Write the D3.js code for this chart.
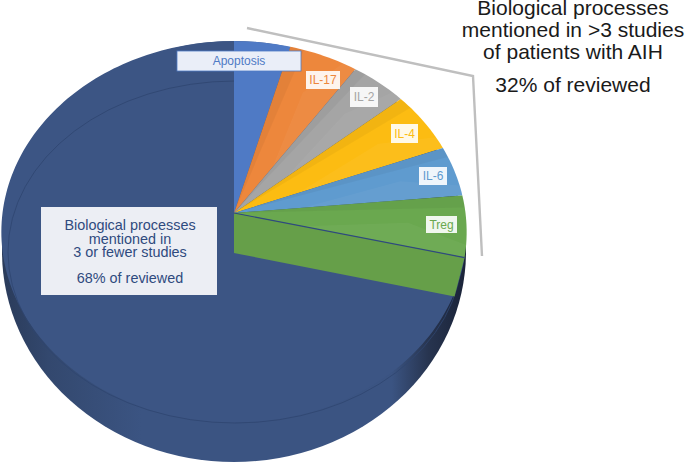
<!DOCTYPE html>
<html>
<head>
<meta charset="utf-8">
<script src="https://cdnjs.cloudflare.com/ajax/libs/d3/7.8.5/d3.min.js"></script>
<style>
  html, body { margin: 0; padding: 0; background: #fff; }
  svg { display: block; font-family: "Liberation Sans", Arial, sans-serif; }
</style>
</head>
<body>
<div id="chart"></div>
<script>
// slice shares (%), clockwise from 12 o'clock
var slices = ['Apoptosis', 'IL-17', 'IL-2', 'IL-4', 'IL-6', 'Treg', 'Other']
var shares = [4.3, 5.3, 4.3, 5.3, 4.3, 5.2, 71.3]
var colours = ['#4f7ac5', '#ed873c', '#a5a5a5', '#fcbc12', '#5f9bcf', '#6aa84f', '#3c5584']
var title_lines = ['Biological processes', 'mentioned in >3 studies', 'of patients with AIH']
var title_share = '32% of reviewed'
var other_lines = ['Biological processes', 'mentioned in', '3 or fewer studies']
var other_share = '68% of reviewed'

var width = 685
var height = 463

// tilted disc: apex is the pie centre, p is the perspective strength
var apex = [234, 213]
var R = 231.5
var S = 189
var p = 0.0995
function project(angle, r){
  var u = Math.sin(angle) * r
  var v = Math.cos(angle) * r
  var w = 1 + p * v
  return [apex[0] + R * u / w, apex[1] - S * v / w]
}

var svg = d3.select('#chart').append('svg')
  .attr('width', width)
  .attr('height', height)

var defs = svg.append('defs')
var side = defs.append('linearGradient').attr('id', 'side')
side.append('stop').attr('offset', 0).attr('stop-color', '#2a3b5a')
side.append('stop').attr('offset', 0.1).attr('stop-color', '#33486e')
side.append('stop').attr('offset', 0.3).attr('stop-color', '#3b5482')
side.append('stop').attr('offset', 0.84).attr('stop-color', '#3b5482')
side.append('stop').attr('offset', 0.92).attr('stop-color', '#27344f')
side.append('stop').attr('offset', 1).attr('stop-color', '#1a2338')

// body of the disc, seen below the top face
svg.append('ellipse')
  .attr('cx', 234).attr('cy', 251.5)
  .attr('rx', 232).attr('ry', 210.5)
  .attr('fill', 'url(#side)')

var pie = d3.pie().sort(null).value(function(d){ return d })
var arcs = pie(shares)
var line = d3.line()

function wedge_points(d){
  var n = Math.max(4, Math.ceil((d.endAngle - d.startAngle) * 40))
  var pts = [project(0, 0)]
  d3.range(n + 1).forEach(function(i){
    pts.push(project(d.startAngle + (d.endAngle - d.startAngle) * i / n, 1))
  })
  return pts
}

// navy slice goes first, the coloured ones sit on top of it
var navy = arcs[arcs.length - 1]
svg.append('path')
  .attr('d', line(wedge_points(navy)) + 'Z')
  .attr('fill', colours[6])

// faint front rim line
svg.append('ellipse')
  .attr('cx', 235).attr('cy', 252)
  .attr('rx', 227).attr('ry', 171)
  .attr('fill', 'none')
  .attr('stroke', '#2f4570')
  .attr('stroke-width', 0.8)

// cut wall under the Treg slice
var treg_end = project(arcs[5].endAngle, 1)
svg.append('path')
  .attr('d', line([
    apex,
    [apex[0], apex[1] + 40],
    [treg_end[0] - 10, treg_end[1] + 39],
    treg_end
  ]) + 'Z')
  .attr('fill', '#669f49')

var pieces = svg.append('g')
arcs.slice(0, 6).forEach(function(d, i){
  pieces.append('path')
    .attr('d', line(wedge_points(d)) + 'Z')
    .attr('fill', colours[i])
  // lighter facet towards the rim, the picture has one on every slice
  var mid = (d.startAngle + d.endAngle) / 2
  pieces.append('path')
    .attr('d', line([
      project(d.endAngle, 0.3),
      project(mid, 0.75),
      project(d.startAngle + (d.endAngle - d.startAngle) * 0.8, 1),
      project(d.endAngle, 1)
    ]) + 'Z')
    .attr('fill', '#fff')
    .attr('opacity', i === 0 ? 0 : 0.04)
  // darker edge strip on the near side of the slice
  pieces.append('path')
    .attr('d', line([
      project(0, 0),
      project(d.startAngle, 1),
      project(d.startAngle + (d.endAngle - d.startAngle) * 0.2, 1)
    ]) + 'Z')
    .attr('fill', '#000')
    .attr('opacity', i === 0 ? 0 : 0.04)
})

// dark edge between Treg and the navy slice
svg.append('path')
  .attr('d', line([apex, treg_end]))
  .attr('stroke', '#2f4a7e')
  .attr('stroke-width', 1.2)
  .attr('fill', 'none')

// grey bracket towards the title
svg.append('path')
  .attr('d', line([[247, 28], [473, 76], [482, 256]]))
  .attr('stroke', '#bfbfbf')
  .attr('stroke-width', 2.4)
  .attr('fill', 'none')

// slice labels: x, y, w, h of each white box
var label_boxes = [
  [177, 51, 124, 20],
  [306, 71, 34, 18],
  [350, 87, 28, 20],
  [391, 124, 27, 19],
  [419, 167, 28, 18],
  [426, 216, 31, 17]
]
label_boxes.forEach(function(b, i){
  var strong = i === 0
  svg.append('rect')
    .attr('x', b[0]).attr('y', b[1])
    .attr('width', b[2]).attr('height', b[3])
    .attr('fill', strong ? '#eaeef8' : '#fff')
    .attr('fill-opacity', strong ? 1 : 0.9)
    .attr('stroke', strong ? colours[0] : 'none')
    .attr('stroke-width', 0.8)
  svg.append('text')
    .attr('x', b[0] + b[2] / 2)
    .attr('y', b[1] + b[3] / 2 + 4)
    .attr('text-anchor', 'middle')
    .attr('font-size', 12)
    .attr('fill', colours[i])
    .text(slices[i])
})

// box on the navy slice
svg.append('rect')
  .attr('x', 41).attr('y', 207)
  .attr('width', 176).attr('height', 88)
  .attr('fill', '#eceef4')
other_lines.forEach(function(t, i){
  svg.append('text')
    .attr('x', 130).attr('y', 230 + i * 13.5)
    .attr('text-anchor', 'middle')
    .attr('font-size', 14.4)
    .attr('fill', '#2f4a7e')
    .text(t)
})
svg.append('text')
  .attr('x', 130).attr('y', 283)
  .attr('text-anchor', 'middle')
  .attr('font-size', 14.4)
  .attr('fill', '#2f4a7e')
  .text(other_share)

// title top right
title_lines.forEach(function(t, i){
  svg.append('text')
    .attr('x', 573).attr('y', 15 + i * 22)
    .attr('text-anchor', 'middle')
    .attr('font-size', 21)
    .attr('fill', '#1a1a1a')
    .text(t)
})
svg.append('text')
  .attr('x', 573).attr('y', 92)
  .attr('text-anchor', 'middle')
  .attr('font-size', 21)
  .attr('fill', '#1a1a1a')
  .text(title_share)
</script>
</body>
</html>
